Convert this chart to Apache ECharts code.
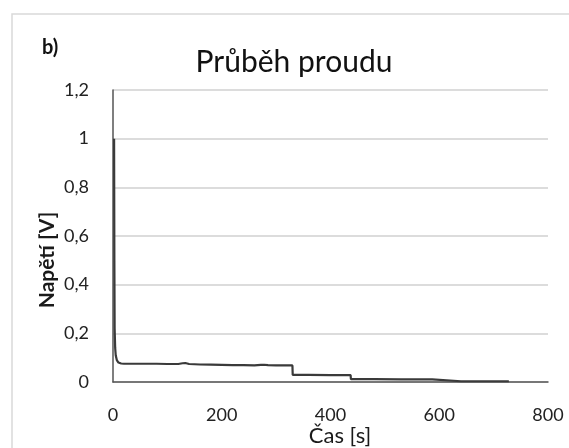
<!DOCTYPE html>
<html>
<head>
<meta charset="utf-8">
<script src="https://cdn.jsdelivr.net/npm/echarts@6/dist/echarts.min.js"></script>
<style>
html,body{margin:0;padding:0;background:#fff;}
#chart{width:569px;height:448px;}
</style>
</head>
<body>
<div id="chart"></div>
<script>
var titleText = 'Průběh proudu';
var panelLabel = 'b)';
var xAxisName = 'Čas [s]';
var yAxisName = 'Napětí [V]';
var timeValues = [2, 2.5, 3, 4, 5, 7, 10, 15, 20, 40, 60, 80, 100, 120, 128, 133, 140, 160, 180, 200, 220, 240, 260, 272, 278, 285, 300, 315, 330, 330.5, 360, 400, 437, 437.5, 480, 530, 587, 587.5, 640, 690, 728];
var voltageValues = [1.0, 0.5, 0.22, 0.14, 0.11, 0.09, 0.08, 0.076, 0.075, 0.075, 0.075, 0.075, 0.074, 0.074, 0.077, 0.078, 0.074, 0.072, 0.071, 0.07, 0.069, 0.069, 0.068, 0.07, 0.071, 0.069, 0.068, 0.068, 0.068, 0.029, 0.029, 0.028, 0.028, 0.012, 0.012, 0.011, 0.011, 0.003, 0.003, 0.003, 0.003];
var xTicks = {min: 0, max: 800, interval: 200};
var yTicks = {min: 0, max: 1.2, interval: 0.2};

var seriesData = timeValues.map(function (t, i) { return [t, voltageValues[i]]; });
var font = 'Lato, "Open Sans", sans-serif';

var chart = echarts.init(document.getElementById('chart'), null, {renderer: 'canvas'});
chart.setOption({
  animation: false,
  backgroundColor: '#fff',
  graphic: [
    {type: 'rect', shape: {x: 12, y: 14, width: 600, height: 500}, style: {fill: 'none', stroke: '#d9d9d9', lineWidth: 1.5}, silent: true},
    {type: 'text', x: 42, y: 48, style: {text: panelLabel, font: 'bold 20px ' + font, fill: '#111', textVerticalAlign: 'middle'}},
    {type: 'text', x: 294, y: 62, style: {text: titleText, font: 'normal 30px ' + font, fill: '#111', textAlign: 'center', textVerticalAlign: 'middle'}},
    {type: 'text', x: 340, y: 436, style: {text: xAxisName, font: 'normal 22px ' + font, fill: '#1a1a1a', textAlign: 'center', textVerticalAlign: 'middle'}},
    {type: 'text', x: 47, y: 260, rotation: Math.PI / 2, style: {text: yAxisName, font: 'bold 21px ' + font, fill: '#1a1a1a', textAlign: 'center', textVerticalAlign: 'middle'}}
  ],
  grid: {left: 113, right: 21, top: 90, bottom: 66, containLabel: false},
  xAxis: {
    type: 'value', min: xTicks.min, max: xTicks.max, interval: xTicks.interval,
    axisLine: {show: true, onZero: true, lineStyle: {color: '#555', width: 1.5}},
    axisTick: {show: false},
    axisLabel: {fontFamily: font, fontSize: 18, color: '#222', margin: 24},
    splitLine: {show: false}
  },
  yAxis: {
    type: 'value', min: yTicks.min, max: yTicks.max, interval: yTicks.interval,
    axisLine: {show: true, lineStyle: {color: '#555', width: 1.5}},
    axisTick: {show: false},
    axisLabel: {fontFamily: font, fontSize: 18, color: '#222', margin: 24,
      formatter: function (v) { return String(Math.round(v * 10) / 10).replace('.', ','); }},
    splitLine: {show: true, lineStyle: {color: '#d0d0d0', width: 1.5}}
  },
  series: [{
    type: 'line', data: seriesData, showSymbol: false, symbol: 'none',
    lineStyle: {color: '#3a3a3a', width: 2.2}
  }]
});
</script>
</body>
</html>
